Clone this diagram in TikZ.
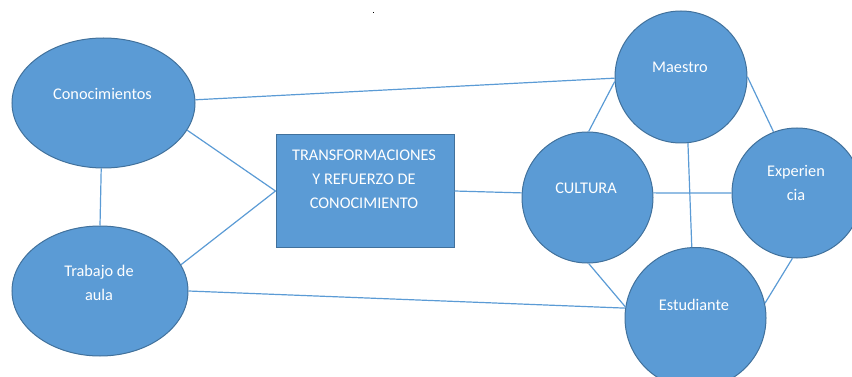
\documentclass[tikz,border=0pt]{standalone}
\usepackage{fontspec}
\setmainfont{Carlito}
\usetikzlibrary{shapes.geometric}
\definecolor{fillb}{HTML}{5B9BD5}
\definecolor{edgeb}{HTML}{41719C}
\definecolor{lineb}{HTML}{5B9BD5}
\begin{document}
\begin{tikzpicture}[x=1pt,y=-1pt,
  blob/.style={fill=fillb,draw=edgeb,line width=1pt,inner sep=0pt},
  circ/.style={blob,circle,minimum size=#1},
  ell/.style={blob,ellipse,minimum width=#1,minimum height=130pt},
  lbl/.style={text=white,font=\fontsize{16.3}{24}\selectfont,align=center,inner sep=0pt},
  conn/.style={draw=lineb,line width=1.2pt}]
\useasboundingbox (0,0) rectangle (852,377);
\clip (0,0) rectangle (852,377);
% shapes
\node[ell=183pt] (con) at (103.5,103) {};
\node[ell=176pt] (trab) at (100,291) {};
\node[blob,rectangle,minimum width=178pt,minimum height=113pt] (rect) at (365,191) {};
\node[circ=131pt] (cult) at (587.5,197.5) {};
\node[circ=132pt] (mae) at (681,77) {};
\node[circ=130pt] (exp) at (797,193) {};
\node[circ=141pt] (est) at (695.5,318) {};
% connectors
\draw[conn] (con.2) -- (mae.181);
\draw[conn] (con.-18) -- (rect.west);
\draw[conn] (trab.18) -- (rect.west);
\draw[conn] (trab.0) -- (est.172);
\draw[conn] (con.268) -- (trab.90);
\draw[conn] (rect.east) -- (cult.176);
\draw[conn] (cult.89) -- (mae.184);
\draw[conn] (mae.0) -- (exp.111);
\draw[conn] (mae.-84) -- (est.93);
\draw[conn] (cult.4) -- (exp.180);
\draw[conn] (cult.-89) -- (est.171);
\draw[conn] (exp.-94) -- (est.12);
% labels
\node[lbl] (con-t) at (102.5,94) {Conocimientos};
\node[lbl] (trab-t) at (99,282.5) {Trabajo de\\aula};
\node[lbl] (rect-t) at (364,179) {TRANSFORMACIONES\\Y REFUERZO DE\\CONOCIMIENTO};
\node[lbl] (mae-t) at (680,67) {Maestro};
\node[lbl] (cult-t) at (586,188) {CULTURA};
\node[lbl] (exp-t) at (796,183) {Experien\\cia};
\node[lbl] (est-t) at (694,305) {Estudiante};
% stray dot
\node[fill=black,inner sep=0pt,minimum size=1.5pt] (dot) at (373.5,12.5) {};
\end{tikzpicture}
\end{document}
